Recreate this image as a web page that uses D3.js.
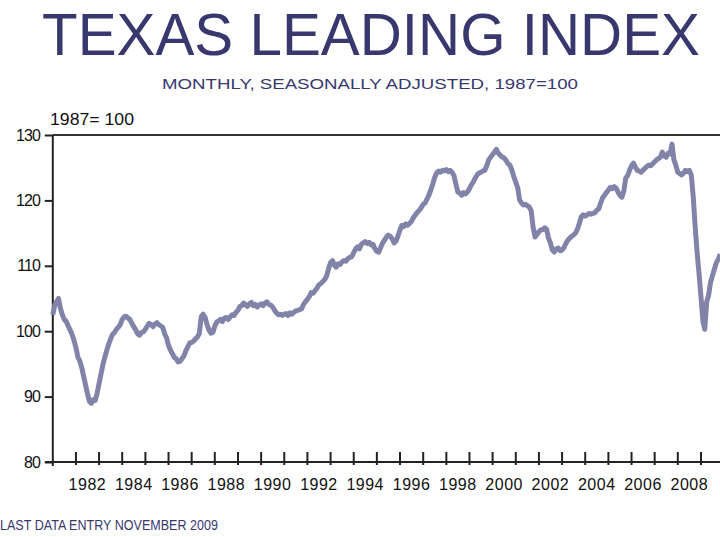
<!DOCTYPE html>
<html>
<head>
<meta charset="utf-8">
<script src="https://cdn.jsdelivr.net/npm/d3@7"></script>
<style>
  html, body { margin: 0; padding: 0; background: #fff; }
  svg { display: block; }
</style>
</head>
<body>
<div id="chart"></div>
<script>
  'use strict';

  // Texas leading index, monthly from Jan 1981
  var startYear = 1981;
  var indexValues = [
    102.5, 104.0, 104.5, 105.0, 103.5, 102.5, 101.8, 101.5, 100.8, 100.2, 99.5, 98.6,   // 1981
    97.5, 96.0, 95.5, 94.5, 93.2, 91.8, 90.5, 89.3, 89.0, 89.5, 89.4, 90.5,             // 1982
    92.0, 93.5, 94.8, 96.0, 97.0, 98.0, 98.8, 99.5, 99.8, 100.3, 100.6, 101.0,          // 1983
    101.8, 102.2, 102.3, 102.0, 101.8, 101.2, 100.7, 100.2, 99.6, 99.4, 99.8, 99.9,     // 1984
    100.3, 100.8, 101.2, 101.0, 100.7, 101.1, 101.3, 101.0, 100.8, 100.6, 99.6, 99.0,   // 1985
    97.8, 97.1, 96.6, 96.0, 95.8, 95.3, 95.4, 95.8, 96.2, 97.0, 97.6, 98.2,             // 1986
    98.3, 98.5, 98.8, 99.1, 99.6, 102.2, 102.6, 102.1, 101.0, 100.2, 99.7, 99.8,        // 1987
    100.8, 101.4, 101.6, 101.8, 101.5, 102.0, 102.1, 101.8, 102.2, 102.5, 102.4, 102.9, // 1988
    103.2, 103.8, 103.9, 104.3, 104.0, 103.8, 104.2, 104.4, 103.9, 104.1, 103.7, 104.0, // 1989
    104.2, 103.9, 104.3, 104.5, 104.1, 104.0, 103.7, 103.2, 102.8, 102.5, 102.6, 102.4, // 1990
    102.6, 102.7, 102.4, 102.8, 102.6, 102.9, 103.1, 103.2, 103.3, 103.4, 104.1, 104.5, // 1991
    104.9, 105.3, 105.9, 105.8, 106.2, 106.6, 107.1, 107.3, 107.6, 107.9, 108.5, 109.6, // 1992
    110.5, 110.8, 110.1, 109.8, 110.3, 110.2, 110.6, 110.8, 110.7, 111.1, 111.3, 111.4, // 1993
    112.0, 112.6, 112.9, 112.6, 113.3, 113.5, 113.7, 113.4, 113.6, 113.2, 113.3, 112.6, // 1994
    112.2, 112.1, 112.8, 113.5, 113.9, 114.4, 114.7, 114.5, 114.1, 113.5, 113.8, 114.6, // 1995
    115.5, 116.2, 116.0, 116.4, 116.2, 116.5, 116.8, 117.4, 117.8, 118.2, 118.5, 118.9, // 1996
    119.4, 119.6, 120.2, 120.8, 121.6, 122.5, 123.5, 124.2, 124.5, 124.3, 124.6, 124.5, // 1997
    124.7, 124.4, 124.6, 124.3, 123.8, 122.5, 121.3, 121.1, 120.8, 121.2, 121.0, 121.3, // 1998
    121.8, 122.4, 122.8, 123.4, 123.9, 124.2, 124.3, 124.5, 124.6, 125.3, 126.2, 126.6, // 1999
    127.0, 127.4, 127.8, 127.2, 126.9, 126.6, 126.5, 126.1, 125.6, 125.4, 124.6, 123.6, // 2000
    122.8, 121.9, 120.1, 119.6, 119.3, 119.4, 119.2, 119.0, 118.4, 115.9, 114.4, 114.8, // 2001
    115.2, 115.5, 115.5, 115.8, 115.6, 114.2, 113.5, 112.4, 112.1, 112.6, 112.7, 112.3, // 2002
    112.4, 112.8, 113.4, 113.9, 114.2, 114.5, 114.7, 115.0, 115.6, 116.5, 117.5, 117.8, // 2003
    117.6, 117.8, 118.0, 117.9, 118.0, 118.1, 118.5, 118.7, 119.6, 120.4, 120.8, 121.2, // 2004
    121.6, 122.0, 121.8, 122.1, 121.9, 121.3, 120.8, 120.5, 121.4, 123.4, 123.8, 124.6, // 2005
    125.3, 125.7, 125.1, 124.6, 124.5, 124.3, 124.6, 124.9, 125.2, 125.4, 125.3, 125.6, // 2006
    125.9, 126.2, 126.4, 126.6, 127.4, 126.8, 126.6, 127.2, 127.1, 128.6, 126.2, 125.4, // 2007
    124.3, 124.1, 123.9, 124.2, 124.6, 124.4, 124.6, 123.9, 120.5, 116.0, 112.0, 108.8, // 2008
    105.2, 101.5, 100.3, 104.5, 105.5, 107.5, 108.5, 109.5, 110.5, 111.0, 111.8         // 2009 (to Nov)
  ];
  var yTicks = [80, 90, 100, 110, 120, 130];
  var labelYears = [1982, 1984, 1986, 1988, 1990, 1992, 1994, 1996, 1998, 2000, 2002, 2004, 2006, 2008];

  var navy = '#38386f';
  var lineColor = '#8183a9';
  var width = 720, height = 537;

  var svg = d3.select('#chart').append('svg')
    .attr('width', width)
    .attr('height', height)
    .style('font-family', '"Liberation Sans", Arial, sans-serif');

  var data = indexValues.map(function (v, i) {
    return { date: new Date(startYear, i, 1), value: v };
  });

  // plot box: left axis at 52.8, Jan 2009 tick at 701
  var x = d3.scaleTime()
    .domain([new Date(1981, 0, 1), new Date(2009, 0, 1)])
    .range([52.8, 701]);
  var y = d3.scaleLinear()
    .domain([80, 130])
    .range([462, 135]);

  // Titles
  svg.append('text')
    .text('TEXAS LEADING INDEX')
    .attr('x', 42)
    .attr('y', 55)
    .attr('font-size', 60)
    .attr('textLength', 658)
    .attr('lengthAdjust', 'spacingAndGlyphs')
    .attr('fill', navy);

  svg.append('text')
    .text('MONTHLY, SEASONALLY ADJUSTED, 1987=100')
    .attr('x', 162)
    .attr('y', 89)
    .attr('font-size', 15)
    .attr('textLength', 416)
    .attr('lengthAdjust', 'spacingAndGlyphs')
    .attr('fill', navy);

  svg.append('text')
    .text('1987= 100')
    .attr('x', 50)
    .attr('y', 125)
    .attr('font-size', 16)
    .attr('textLength', 84)
    .attr('lengthAdjust', 'spacingAndGlyphs')
    .attr('fill', '#111');

  // Top frame line
  svg.append('line')
    .attr('x1', x.range()[0]).attr('x2', width)
    .attr('y1', y(130)).attr('y2', y(130))
    .attr('stroke', '#333').attr('stroke-width', 2);

  // Y axis
  var yAxis = svg.append('g')
    .attr('transform', 'translate(' + x.range()[0] + ',0)')
    .call(d3.axisLeft(y).tickValues(yTicks).tickSize(8).tickPadding(5).tickFormat(d3.format('d')));
  yAxis.select('.domain')
    .attr('d', 'M0,' + y(130) + 'V' + (y(80) + 4))
    .attr('stroke', '#222').attr('stroke-width', 2);
  yAxis.selectAll('.tick line').attr('stroke', '#222').attr('stroke-width', 2);
  yAxis.selectAll('.tick text')
    .attr('font-size', 16)
    .attr('fill', '#111')
    .attr('font-family', '"Liberation Sans", Arial, sans-serif')
    .attr('letter-spacing', -1);

  // X axis: yearly ticks crossing the axis line, labels mid-year
  var xAxis = svg.append('g')
    .attr('transform', 'translate(0,' + y(80) + ')');
  xAxis.append('line')
    .attr('x1', 45).attr('x2', width)
    .attr('stroke', '#222').attr('stroke-width', 2);
  xAxis.selectAll('line.tick')
    .data(d3.timeYear.range(new Date(1982, 0, 1), new Date(2010, 0, 1)))
    .enter().append('line')
    .attr('class', 'tick')
    .attr('x1', function (d) { return x(d); })
    .attr('x2', function (d) { return x(d); })
    .attr('y1', -10).attr('y2', 3)
    .attr('stroke', '#222').attr('stroke-width', 2);
  xAxis.selectAll('text')
    .data(labelYears)
    .enter().append('text')
    .text(function (d) { return d; })
    .attr('x', function (d) { return x(new Date(d, 6, 1)); })
    .attr('y', 28)
    .attr('text-anchor', 'middle')
    .attr('font-size', 16)
    .attr('letter-spacing', 0.5)
    .attr('fill', '#111');

  // Index line
  var line = d3.line()
    .x(function (d) { return x(d.date); })
    .y(function (d) { return y(d.value); });

  svg.append('path')
    .datum(data)
    .attr('d', line)
    .attr('fill', 'none')
    .attr('stroke', lineColor)
    .attr('stroke-width', 5)
    .attr('stroke-linejoin', 'round');

  // Footnote
  svg.append('text')
    .text('LAST DATA ENTRY NOVEMBER 2009')
    .attr('x', 0)
    .attr('y', 530)
    .attr('font-size', 15)
    .attr('textLength', 218)
    .attr('lengthAdjust', 'spacingAndGlyphs')
    .attr('fill', navy);
</script>
</body>
</html>
